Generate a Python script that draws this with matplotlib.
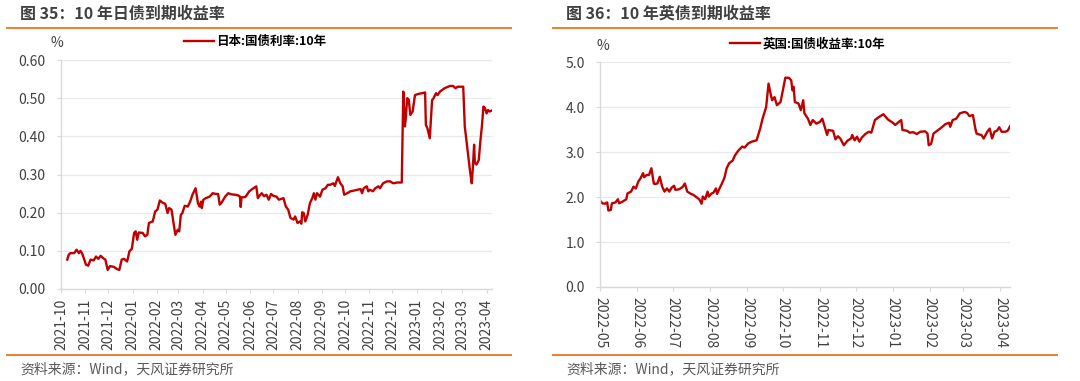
import pandas as pd
import matplotlib
matplotlib.use("Agg")
import matplotlib.pyplot as plt
import matplotlib.dates as mdates
from matplotlib.lines import Line2D

plt.rcParams['font.family'] = ['Noto Sans CJK SC', 'DejaVu Sans']

# ===== data =====
jp_dates = [
    "2021-10-09", "2021-10-11", "2021-10-13", "2021-10-18", "2021-10-21", "2021-10-24",
    "2021-10-26", "2021-10-28", "2021-10-31", "2021-11-02", "2021-11-05", "2021-11-08",
    "2021-11-12", "2021-11-15", "2021-11-18", "2021-11-21", "2021-11-24", "2021-11-27",
    "2021-11-30", "2021-12-03", "2021-12-08", "2021-12-12", "2021-12-15", "2021-12-18",
    "2021-12-21", "2021-12-25", "2021-12-28", "2021-12-31", "2022-01-03", "2022-01-05",
    "2022-01-07", "2022-01-09", "2022-01-14", "2022-01-17", "2022-01-20", "2022-01-22",
    "2022-01-27", "2022-01-30", "2022-02-02", "2022-02-05", "2022-02-08", "2022-02-12",
    "2022-02-15", "2022-02-17", "2022-02-20", "2022-02-22", "2022-02-25", "2022-02-28",
    "2022-03-02", "2022-03-04", "2022-03-06", "2022-03-09", "2022-03-13", "2022-03-16",
    "2022-03-19", "2022-03-23", "2022-03-26", "2022-03-28", "2022-03-30", "2022-03-31",
    "2022-04-02", "2022-04-05", "2022-04-10", "2022-04-14", "2022-04-18", "2022-04-21",
    "2022-04-23", "2022-04-25", "2022-04-30", "2022-05-04", "2022-05-08", "2022-05-13",
    "2022-05-17", "2022-05-19", "2022-05-20", "2022-05-21", "2022-05-26", "2022-05-28",
    "2022-05-31", "2022-06-04", "2022-06-09", "2022-06-11", "2022-06-13", "2022-06-16",
    "2022-06-19", "2022-06-22", "2022-06-25", "2022-06-28", "2022-07-01", "2022-07-05",
    "2022-07-08", "2022-07-11", "2022-07-14", "2022-07-17", "2022-07-20", "2022-07-23",
    "2022-07-27", "2022-07-29", "2022-08-01", "2022-08-04", "2022-08-06", "2022-08-07",
    "2022-08-09", "2022-08-11", "2022-08-14", "2022-08-17", "2022-08-20", "2022-08-22",
    "2022-08-24", "2022-08-26", "2022-08-30", "2022-09-02", "2022-09-06", "2022-09-09",
    "2022-09-12", "2022-09-16", "2022-09-18", "2022-09-22", "2022-09-25", "2022-09-28",
    "2022-09-30", "2022-10-04", "2022-10-08", "2022-10-13", "2022-10-17", "2022-10-21",
    "2022-10-23", "2022-10-25", "2022-10-29", "2022-10-31", "2022-11-02", "2022-11-06",
    "2022-11-09", "2022-11-13", "2022-11-15", "2022-11-19", "2022-11-24", "2022-11-28",
    "2022-12-02", "2022-12-07", "2022-12-11", "2022-12-13", "2022-12-15", "2022-12-17",
    "2022-12-18", "2022-12-20", "2022-12-22", "2022-12-24", "2022-12-27", "2022-12-30",
    "2023-01-03", "2023-01-08", "2023-01-12", "2023-01-13", "2023-01-15", "2023-01-18",
    "2023-01-21", "2023-01-23", "2023-01-26", "2023-01-28", "2023-01-31", "2023-02-06",
    "2023-02-13", "2023-02-17", "2023-02-20", "2023-02-23", "2023-03-02", "2023-03-04",
    "2023-03-06", "2023-03-08", "2023-03-10", "2023-03-11", "2023-03-13", "2023-03-14",
    "2023-03-16", "2023-03-17", "2023-03-19", "2023-03-22", "2023-03-24", "2023-03-26",
    "2023-03-28", "2023-03-30", "2023-04-01", "2023-04-03", "2023-04-05", "2023-04-07",
]
jp_yield = [
    0.077, 0.090, 0.094, 0.094, 0.103, 0.094,
    0.100, 0.094, 0.077, 0.064, 0.061, 0.077,
    0.075, 0.085, 0.079, 0.087, 0.081, 0.077,
    0.050, 0.060, 0.058, 0.052, 0.050, 0.077,
    0.079, 0.072, 0.099, 0.105, 0.147, 0.151,
    0.129, 0.148, 0.147, 0.138, 0.142, 0.173,
    0.177, 0.203, 0.208, 0.232, 0.227, 0.223,
    0.199, 0.212, 0.208, 0.181, 0.142, 0.155,
    0.151, 0.194, 0.199, 0.218, 0.216, 0.229,
    0.247, 0.264, 0.225, 0.216, 0.229, 0.212,
    0.234, 0.238, 0.242, 0.251, 0.249, 0.249,
    0.221, 0.225, 0.242, 0.251, 0.248, 0.247,
    0.245, 0.242, 0.215, 0.240, 0.241, 0.247,
    0.256, 0.262, 0.269, 0.238, 0.244, 0.251,
    0.243, 0.247, 0.234, 0.249, 0.244, 0.242,
    0.234, 0.236, 0.238, 0.216, 0.208, 0.186,
    0.182, 0.190, 0.173, 0.177, 0.171, 0.201,
    0.199, 0.177, 0.194, 0.225, 0.238, 0.251,
    0.234, 0.251, 0.242, 0.260, 0.264, 0.273,
    0.273, 0.277, 0.270, 0.293, 0.277, 0.269,
    0.247, 0.251, 0.256, 0.258, 0.260, 0.262,
    0.251, 0.264, 0.269, 0.256, 0.260, 0.256,
    0.264, 0.269, 0.264, 0.277, 0.282, 0.282,
    0.277, 0.279, 0.279, 0.279, 0.517, 0.426,
    0.443, 0.500, 0.496, 0.456, 0.465, 0.508,
    0.511, 0.513, 0.515, 0.430, 0.421, 0.395,
    0.495, 0.500, 0.513, 0.508, 0.517, 0.526,
    0.532, 0.532, 0.526, 0.530, 0.530, 0.426,
    0.391, 0.356, 0.321, 0.305, 0.277, 0.305,
    0.378, 0.330, 0.326, 0.338, 0.386, 0.426,
    0.478, 0.474, 0.460, 0.469, 0.465, 0.467,
]

uk_dates = [
    "2022-05-01", "2022-05-03", "2022-05-05", "2022-05-07", "2022-05-08", "2022-05-10",
    "2022-05-11", "2022-05-14", "2022-05-16", "2022-05-17", "2022-05-20", "2022-05-23",
    "2022-05-24", "2022-05-27", "2022-05-29", "2022-05-31", "2022-06-02", "2022-06-04",
    "2022-06-06", "2022-06-07", "2022-06-09", "2022-06-11", "2022-06-13", "2022-06-15",
    "2022-06-16", "2022-06-18", "2022-06-20", "2022-06-22", "2022-06-24", "2022-06-26",
    "2022-06-28", "2022-06-30", "2022-07-02", "2022-07-03", "2022-07-06", "2022-07-09",
    "2022-07-11", "2022-07-13", "2022-07-16", "2022-07-18", "2022-07-20", "2022-07-23",
    "2022-07-25", "2022-07-26", "2022-07-28", "2022-07-30", "2022-07-31", "2022-08-02",
    "2022-08-04", "2022-08-06", "2022-08-07", "2022-08-09", "2022-08-11", "2022-08-13",
    "2022-08-15", "2022-08-17", "2022-08-20", "2022-08-22", "2022-08-25", "2022-08-28",
    "2022-08-30", "2022-09-02", "2022-09-05", "2022-09-09", "2022-09-12", "2022-09-14",
    "2022-09-17", "2022-09-19", "2022-09-21", "2022-09-22", "2022-09-24", "2022-09-26",
    "2022-09-29", "2022-10-01", "2022-10-03", "2022-10-06", "2022-10-08", "2022-10-09",
    "2022-10-10", "2022-10-11", "2022-10-14", "2022-10-16", "2022-10-18", "2022-10-19",
    "2022-10-22", "2022-10-24", "2022-10-26", "2022-10-29", "2022-11-01", "2022-11-03",
    "2022-11-05", "2022-11-07", "2022-11-08", "2022-11-12", "2022-11-14", "2022-11-16",
    "2022-11-18", "2022-11-21", "2022-11-24", "2022-11-27", "2022-11-28", "2022-11-30",
    "2022-12-02", "2022-12-04", "2022-12-06", "2022-12-09", "2022-12-12", "2022-12-14",
    "2022-12-17", "2022-12-20", "2022-12-24", "2022-12-28", "2023-01-01", "2023-01-03",
    "2023-01-06", "2023-01-08", "2023-01-09", "2023-01-13", "2023-01-15", "2023-01-18",
    "2023-01-21", "2023-01-24", "2023-01-28", "2023-01-30", "2023-01-31", "2023-02-02",
    "2023-02-04", "2023-02-07", "2023-02-11", "2023-02-14", "2023-02-17", "2023-02-18",
    "2023-02-20", "2023-02-23", "2023-02-26", "2023-03-02", "2023-03-04", "2023-03-06",
    "2023-03-09", "2023-03-11", "2023-03-12", "2023-03-14", "2023-03-16", "2023-03-18",
    "2023-03-21", "2023-03-23", "2023-03-25", "2023-03-27", "2023-03-29", "2023-03-31",
    "2023-04-02", "2023-04-05", "2023-04-07", "2023-04-09",
]
uk_yield = [
    1.92, 1.86, 1.85, 1.88, 1.70, 1.71,
    1.86, 1.88, 1.95, 1.86, 1.90, 1.95,
    2.08, 2.12, 2.23, 2.19, 2.34, 2.42,
    2.53, 2.44, 2.49, 2.49, 2.64, 2.30,
    2.29, 2.30, 2.45, 2.23, 2.12, 2.19,
    2.12, 2.21, 2.25, 2.16, 2.17, 2.22,
    2.30, 2.12, 2.07, 2.05, 2.01, 1.95,
    1.85, 2.01, 1.95, 2.12, 2.01, 2.07,
    2.10, 2.19, 2.07, 2.19, 2.30, 2.42,
    2.64, 2.75, 2.81, 2.93, 3.04, 3.12,
    3.10, 3.19, 3.23, 3.26, 3.52, 3.74,
    4.00, 4.52, 4.26, 4.15, 4.22, 4.04,
    4.11, 4.37, 4.65, 4.65, 4.59, 4.37,
    4.45, 4.11, 4.08, 3.93, 4.15, 3.86,
    3.74, 3.60, 3.71, 3.63, 3.67, 3.74,
    3.56, 3.38, 3.49, 3.47, 3.28, 3.35,
    3.30, 3.15, 3.25, 3.30, 3.38, 3.26,
    3.34, 3.23, 3.32, 3.40, 3.45, 3.43,
    3.71, 3.77, 3.84, 3.72, 3.65, 3.60,
    3.67, 3.71, 3.49, 3.47, 3.43, 3.44,
    3.40, 3.45, 3.46, 3.41, 3.15, 3.18,
    3.41, 3.47, 3.55, 3.62, 3.65, 3.56,
    3.71, 3.74, 3.86, 3.89, 3.87, 3.80,
    3.82, 3.52, 3.41, 3.39, 3.38, 3.30,
    3.45, 3.52, 3.30, 3.45, 3.47, 3.55,
    3.45, 3.45, 3.47, 3.57,
]

jp_dates = pd.to_datetime(jp_dates)
uk_dates = pd.to_datetime(uk_dates)

RED = "#C00000"
ORANGE = "#ED7D31"
TXT = "#404040"
GRID = "#E9E9E9"
SPINE = "#D9D9D9"

fig = plt.figure(figsize=(10.8, 3.81), dpi=100)


def style_axes(ax):
    for s in ["top", "right"]:
        ax.spines[s].set_visible(False)
    for s in ["left", "bottom"]:
        ax.spines[s].set_color(SPINE)
        ax.spines[s].set_linewidth(1.0)
    ax.grid(axis="y", color=GRID, linewidth=0.9)
    ax.set_axisbelow(True)
    ax.tick_params(axis="both", colors=SPINE, length=3, width=0.8, labelcolor=TXT)
    ax.tick_params(axis="y", labelsize=10, pad=8)
    ax.tick_params(axis="x", labelsize=10, pad=4)
    ax.xaxis.set_major_locator(mdates.MonthLocator())
    ax.xaxis.set_major_formatter(mdates.DateFormatter("%Y-%m"))


# ===== 左图：日本 =====
ax1 = fig.add_axes([61 / 1080, 1 - 289 / 381, 431 / 1080, 229 / 381])
style_axes(ax1)
ax1.plot(jp_dates, jp_yield, color=RED, linewidth=1.7, label="日本:国债利率:10年")
ax1.set_ylim(0, 0.6)
ax1.set_yticks([0, 0.1, 0.2, 0.3, 0.4, 0.5, 0.6])
ax1.yaxis.set_major_formatter(plt.FormatStrFormatter("%.2f"))
ax1.set_xlim(pd.Timestamp("2021-10-01"), pd.Timestamp("2023-04-08"))
for lab in ax1.get_xticklabels():
    lab.set_rotation(90)
    lab.set_va("top")
    lab.set_ha("center")
ax1.text(-0.009, 1.074, "%", transform=ax1.transAxes, fontsize=10, color=TXT,
         ha="center", va="center")
ax1.legend(loc="center left", bbox_to_anchor=(0.285, 1.079), frameon=False,
           borderpad=0, borderaxespad=0, handlelength=2.4, handletextpad=0.2,
           prop={"weight": "bold", "size": 9})

# ===== 右图：英国 =====
ax2 = fig.add_axes([600 / 1080, 1 - 287 / 381, 410 / 1080, 225 / 381])
style_axes(ax2)
ax2.plot(uk_dates, uk_yield, color=RED, linewidth=1.7, label="英国:国债收益率:10年")
ax2.set_ylim(0, 5)
ax2.set_yticks([0, 1, 2, 3, 4, 5])
ax2.yaxis.set_major_formatter(plt.FormatStrFormatter("%.1f"))
ax2.set_xlim(pd.Timestamp("2022-05-01"), pd.Timestamp("2023-04-09"))
for lab in ax2.get_xticklabels():
    lab.set_rotation(-90)
    lab.set_va("top")
    lab.set_ha("center")
ax2.text(0.007, 1.071, "%", transform=ax2.transAxes, fontsize=10, color=TXT,
         ha="center", va="center")
ax2.legend(loc="center left", bbox_to_anchor=(0.318, 1.08), frameon=False,
           borderpad=0, borderaxespad=0, handlelength=2.4, handletextpad=0.2,
           prop={"weight": "bold", "size": 9})

# ===== 标题、分隔线、来源 =====
for x0, title in [(20, "图 35：10 年日债到期收益率"), (566, "图 36：10 年英债到期收益率")]:
    fig.text(x0 / 1080, 1 - 14 / 381, title, fontsize=11.5, fontweight="bold",
             color=TXT, ha="left", va="center")
    fig.text(x0 / 1080, 1 - 369 / 381, "资料来源：Wind，天风证券研究所", fontsize=10,
             color="#595959", ha="left", va="center")

for xa, xb in [(7, 511), (553, 1057)]:
    for yy in [28, 355]:
        fig.add_artist(Line2D([xa / 1080, xb / 1080], [1 - yy / 381, 1 - yy / 381],
                              transform=fig.transFigure, color=ORANGE, linewidth=1.4))

fig.savefig("out.png", dpi=100)
